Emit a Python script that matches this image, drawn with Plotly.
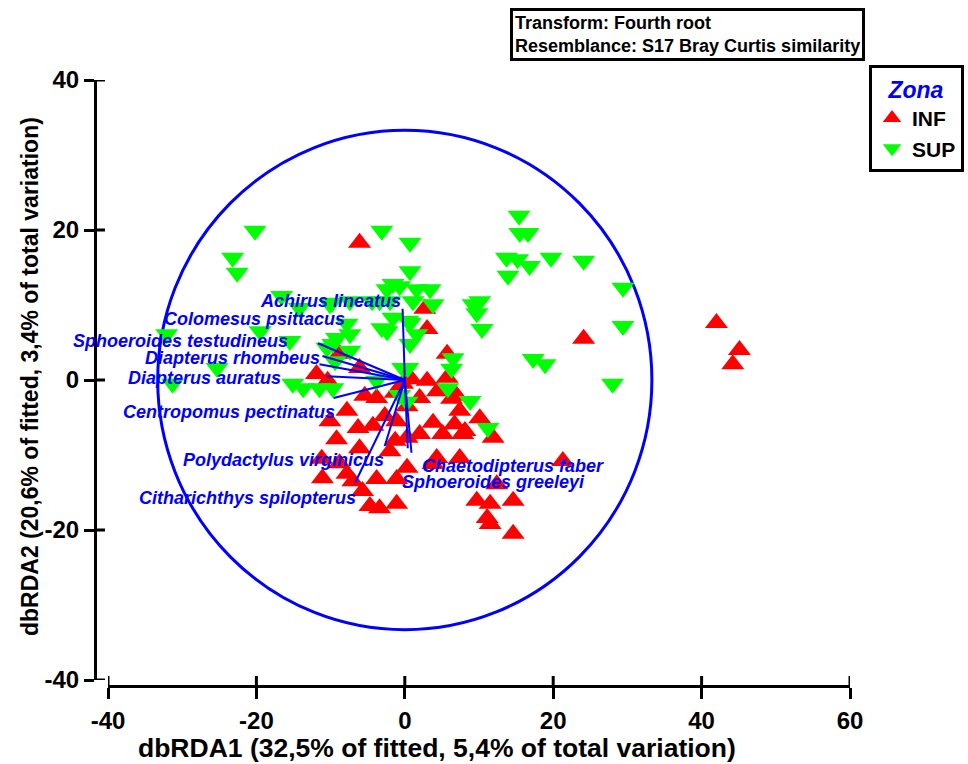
import plotly.graph_objects as go

# ---------------- data ----------------
inf_x = [-6.1, 42.0, 45.1, 44.2, 24.1, 21.3, 2.7, 3.0, 5.7, 0.9, 3.0, 5.7, 2.0, 7.0, -0.3,
         0.3, 10.1, 11.9, 3.8, 6.7, 7.8, 0.3, 2.0, 5.1, 4.3, 7.4, 0.3, 12.4, 9.7, 11.5,
         14.6, 11.1, 11.5, 14.6, -1.1, -3.8, 6.3, -6.3, -4.3, -9.2, -1.1, 8.1, -6.1, -11.1,
         -7.8, -7.0, -3.8, -1.1, 3.8, -4.7, -3.4, -11.9, -8.8, -6.1, -5.4, -10.4, -10.1,
         -7.8, -11.2, -8.8, -5.7, -2.0, -1.3, -2.7, 4.4, -1.3, 7.4]
inf_y = [18.3, 7.6, 4.0, 2.1, 5.5, -10.8, 9.5, 6.8, 3.5, 0.1, -0.1, 0.3, -2.4, -2.1, -0.5,
         -3.5, -5.1, -7.7, -5.7, -5.9, -7.2, -7.7, -7.2, -7.2, -10.4, -10.4, -11.7, -13.9, -16.1, -16.5,
         -16.1, -18.4, -19.2, -20.5, -16.5, -2.4, -2.5, -6.4, -6.1, -7.9, -5.5, -6.8, -9.1, -13.1,
         -12.5, -13.5, -13.2, -13.2, -11.2, -16.8, -17.1, 0.8, 3.5, 1.6, -2.1, -0.1, -5.5,
         -4.1, -10.5, -11.1, -14.8, -9.5, -8.1, -4.8, -1.5, -1.7, -4.1]

sup_x = [-20.2, -23.2, -22.6, -3.1, 0.7, 15.4, 15.5, 16.6, 13.7, 15.2, 16.8, 13.9, 19.7, 24.1,
         29.4, 29.4, 17.3, 18.9, 28.0, 9.2, 10.1, 9.7, 10.4, 0.7, -0.7, 1.6, 3.4, -2.4, 1.1,
         3.8, -1.6, 0.7, -2.4, 1.6, 0.7, 6.5, 6.3, 0.4, 5.8, 8.8, 11.2, -16.6, -14.2, -10.1,
         -3.4, -1.6, -7.8, -3.1, -19.5, -32.1, -15.5, -9.7, -7.4, -25.3, -31.3, -15.1, -13.7,
         -11.5, -9.7, -3.8, -7.4, -9.2, -10.5, -9.4, -4.4, -7.4, -9.8, -0.3, -2.0, 0.4, -0.7, 0.3]
sup_y = [19.9, 16.3, 14.3, 19.9, 18.3, 21.9, 19.6, 19.6, 16.3, 16.1, 15.2, 13.9, 16.3, 15.9,
         12.3, 7.2, 2.8, 2.1, -0.5, 10.1, 10.5, 8.9, 6.8, 14.5, 12.5, 12.1, 12.1, 12.1, 10.5,
         10.1, 8.3, 7.6, 6.5, 6.1, 4.8, 2.9, 1.5, 1.6, -1.1, -2.8, -6.4, 11.2, 9.6, 10.1,
         10.5, 12.8, 7.5, 6.9, 6.5, 6.1, 5.2, 4.8, 3.9, 1.6, -0.5, -0.5, -1.1,
         -1.1, -1.1, -0.1, 6.1, 5.6, 4.3, 2.5, 10.5, 10.5, 10.3, 1.6, 10.5, 7.9, -2.0, -2.9]

species = ["Achirus lineatus", "Colomesus psittacus", "Sphoeroides testudineus",
           "Diapterus rhombeus", "Diapterus auratus", "Centropomus pectinatus",
           "Polydactylus virginicus", "Citharichthys spilopterus",
           "Chaetodipterus faber", "Sphoeroides greeleyi"]
vec_x = [-0.3, -11.7, -11.1, -11.5, -10.5, -9.6, -2.7, -6.7, 0.9, 0.4]
vec_y = [9.5, 4.9, 3.2, 2.1, 0.5, -2.4, -8.8, -13.7, -9.7, -9.1]
lab_x = [-0.2, -7.8, -15.5, -11.2, -16.4, -9.2, -2.6, -6.3, 2.0, -0.7]
lab_y = [10.5, 8.1, 5.2, 2.9, 0.3, -4.3, -10.7, -15.7, -11.5, -13.6]
lab_side = ["right"] * 8 + ["left", "left"]

circle_r = 33.3
x_ticks = [-40, -20, 0, 20, 40, 60]
x_ticktext = ["-40", "-20", "0", "20", "40", "60"]
y_ticks = [-40, -20, 0, 20, 40]
y_ticktext = ["-40", "-20", "0", "20", "40"]
x_title = "dbRDA1 (32,5% of fitted, 5,4% of total variation)"
y_title = "dbRDA2 (20,6% of fitted, 3,4% of total variation)"
info_text = "Transform: Fourth root<br>Resemblance: S17 Bray Curtis similarity"

# ---------------- figure ----------------
FONT = "Liberation Sans, Arial, sans-serif"
W, H = 968, 764
PL, PR, PT, PB = 95, 850, 80, 686            # plot frame in window pixels
ML, MR, MT, MB = PL, W - PR, PT, H - PB
PW, PH = PR - PL, PB - PT


def px(xw):
    return (xw - PL) / PW


def py(yw):
    return (PB - yw) / PH


fig = go.Figure()
fig.add_trace(go.Scatter(x=inf_x, y=inf_y, mode="markers", name="INF",
                         marker=dict(symbol="triangle-up", size=20, color="#FF0000",
                                     line=dict(width=0))))
fig.add_trace(go.Scatter(x=sup_x, y=sup_y, mode="markers", name="SUP",
                         marker=dict(symbol="triangle-down", size=20, color="#00FF00",
                                     line=dict(width=0))))

vx, vy = [], []
for tx, ty in zip(vec_x, vec_y):
    vx += [0, tx, None]
    vy += [0, ty, None]
fig.add_trace(go.Scatter(x=vx, y=vy, mode="lines", line=dict(color="#0000FF", width=2),
                         showlegend=False, hoverinfo="skip"))

shapes = [dict(type="circle", xref="x", yref="y", x0=-circle_r, x1=circle_r,
               y0=-circle_r, y1=circle_r, line=dict(color="#0000FF", width=3), layer="below")]
for v in x_ticks:
    shapes.append(dict(type="line", xref="x", yref="paper", x0=v, x1=v, y0=0, y1=10 / PH,
                       line=dict(color="black", width=3)))
for v in y_ticks:
    shapes.append(dict(type="line", xref="paper", yref="y", x0=0, x1=10 / PW, y0=v, y1=v,
                       line=dict(color="black", width=3)))

annotations = []
for name, lx, ly, side in zip(species, lab_x, lab_y, lab_side):
    annotations.append(dict(x=lx, y=ly, xref="x", yref="y", text=name, showarrow=False,
                            xanchor=side, yanchor="middle",
                            font=dict(family=FONT, size=18, color="#0000FF",
                                      weight="bold", style="italic")))
annotations.append(dict(x=px(437), y=py(748), xref="paper", yref="paper",
                        text=x_title, showarrow=False, xanchor="center", yanchor="middle",
                        font=dict(family=FONT, size=26.5, color="black", weight="bold")))
annotations.append(dict(x=px(30), y=py(377), xref="paper", yref="paper",
                        text=y_title, showarrow=False, xanchor="center", yanchor="middle",
                        textangle=-90,
                        font=dict(family=FONT, size=23, color="black", weight="bold")))
annotations.append(dict(x=px(510), y=py(8), xref="paper", yref="paper",
                        text=info_text, showarrow=False, xanchor="left", yanchor="top",
                        align="left", bordercolor="black", borderwidth=3, borderpad=2,
                        bgcolor="white",
                        font=dict(family=FONT, size=18, color="black", weight="bold")))

fig.update_layout(
    width=W, height=H,
    margin=dict(l=ML, r=MR, t=MT, b=MB, autoexpand=False),
    paper_bgcolor="white", plot_bgcolor="white",
    font=dict(family=FONT, color="black"),
    xaxis=dict(range=[-40, 60], domain=[px(108), 1], anchor="free", position=0,
               showline=True, linewidth=3, linecolor="black", showgrid=False, zeroline=False,
               ticks="outside", ticklen=11, tickwidth=3, tickcolor="black",
               tickvals=x_ticks, ticktext=x_ticktext, ticklabelstandoff=1,
               tickfont=dict(family=FONT, size=24, color="black", weight="bold")),
    yaxis=dict(range=[-40, 40], domain=[py(680), 1], anchor="free", position=0,
               showline=True, linewidth=3, linecolor="black", showgrid=False, zeroline=False,
               ticks="outside", ticklen=10, tickwidth=3, tickcolor="black",
               tickvals=y_ticks, ticktext=y_ticktext,
               tickfont=dict(family=FONT, size=24, color="black", weight="bold")),
    shapes=shapes,
    annotations=annotations,
    legend=dict(x=px(869), y=py(65), xanchor="left", yanchor="top",
                bordercolor="black", borderwidth=3, bgcolor="white",
                font=dict(family=FONT, size=21, color="black", weight="bold"),
                title=dict(text="Zona", side="top center",
                           font=dict(family=FONT, size=23, color="#0000FF",
                                     weight="bold", style="italic")),
                itemsizing="trace", tracegroupgap=0),
)

fig.write_html("out.html", config={"displayModeBar": False},
               post_script="document.body.style.margin='0';")
